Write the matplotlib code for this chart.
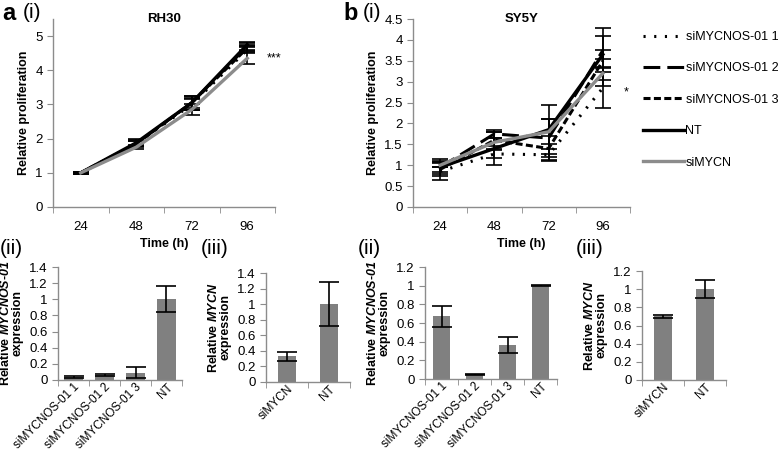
import numpy as np
import matplotlib
matplotlib.use("Agg")
import matplotlib.pyplot as plt

plt.rcParams['font.family'] = ['Liberation Sans', 'DejaVu Sans']
plt.rcParams['mathtext.fontset'] = 'custom'
plt.rcParams['mathtext.bfit'] = 'Liberation Sans:bold:italic'
plt.rcParams['mathtext.rm'] = 'Liberation Sans:bold'

# ---- data ----
times = ['24', '48', '72', '96']
series = ['siMYCNOS-01 1', 'siMYCNOS-01 2', 'siMYCNOS-01 3', 'NT', 'siMYCN']

rh30_mean = {
    'siMYCNOS-01 1': [1.0, 1.85, 3.0, 4.6],
    'siMYCNOS-01 2': [1.0, 1.85, 3.05, 4.7],
    'siMYCNOS-01 3': [1.0, 1.85, 3.05, 4.65],
    'NT':            [1.0, 1.88, 3.05, 4.75],
    'siMYCN':        [1.0, 1.75, 2.85, 4.35],
}
rh30_err = {
    'siMYCNOS-01 1': [0.02, 0.08, 0.15, 0.1],
    'siMYCNOS-01 2': [0.02, 0.1, 0.2, 0.1],
    'siMYCNOS-01 3': [0.02, 0.08, 0.15, 0.1],
    'NT':            [0.02, 0.1, 0.2, 0.08],
    'siMYCN':        [0.02, 0.05, 0.15, 0.17],
}
sy5y_mean = {
    'siMYCNOS-01 1': [0.85, 1.27, 1.25, 2.85],
    'siMYCNOS-01 2': [0.95, 1.75, 1.65, 3.75],
    'siMYCNOS-01 3': [0.9, 1.6, 1.4, 3.5],
    'NT':            [0.95, 1.4, 1.85, 3.65],
    'siMYCN':        [1.0, 1.55, 1.8, 3.2],
}
sy5y_err = {
    'siMYCNOS-01 1': [0.1, 0.1, 0.13, 0.47],
    'siMYCNOS-01 2': [0.15, 0.1, 0.45, 0.53],
    'siMYCNOS-01 3': [0.25, 0.2, 0.3, 0.6],
    'NT':            [0.12, 0.4, 0.58, 0.1],
    'siMYCN':        [0.05, 0.1, 0.3, 0.15],
}

kd_labels = ['siMYCNOS-01 1', 'siMYCNOS-01 2', 'siMYCNOS-01 3', 'NT']
mycn_labels = ['siMYCN', 'NT']
rh30_os_expr = [0.04, 0.06, 0.09, 1.0]
rh30_os_err = [0.01, 0.015, 0.065, 0.16]
rh30_mycn_expr = [0.33, 1.0]
rh30_mycn_err = [0.055, 0.28]
sy5y_os_expr = [0.67, 0.05, 0.36, 1.0]
sy5y_os_err = [0.11, 0.003, 0.085, 0.003]
sy5y_mycn_expr = [0.70, 1.0]
sy5y_mycn_err = [0.02, 0.1]

styles = {
    'siMYCNOS-01 1': dict(color='black', lw=2.2, dashes=(0.7, 2.8)),
    'siMYCNOS-01 2': dict(color='black', lw=2.2, dashes=(5.5, 2.3)),
    'siMYCNOS-01 3': dict(color='black', lw=2.2, dashes=(2.3, 1.1)),
    'NT':            dict(color='black', lw=2.4),
    'siMYCN':        dict(color='#8c8c8c', lw=2.4),
}

spine_col = '#8c8c8c'
bar_col = '#808080'
W, H = 778, 455


def px_axes(fig, left, right, bottom, top):
    return fig.add_axes([left / W, 1 - bottom / H, (right - left) / W, (bottom - top) / H])


def style_axes(ax, n):
    for s in ['top', 'right']:
        ax.spines[s].set_visible(False)
    for s in ['left', 'bottom']:
        ax.spines[s].set_color(spine_col)
        ax.spines[s].set_linewidth(1.0)
    ax.set_xlim(-0.5, n - 0.5)
    ax.set_xticks(np.arange(-0.5, n), minor=True)
    ax.tick_params(axis='x', which='major', length=0, labelsize=9.5, pad=9)
    ax.tick_params(axis='x', which='minor', length=4, color=spine_col)
    ax.tick_params(axis='y', length=4, color=spine_col, labelsize=9.5)


def fmt(v):
    return ('%g' % round(v, 2))


def line_panel(ax, means, errs, ymax, step, title):
    x = np.arange(len(times))
    style_axes(ax, len(times))
    handles = []
    for name in series:
        st = styles[name]
        ax.errorbar(x, means[name], yerr=errs[name], fmt='none', ecolor='black',
                    elinewidth=1.2, capsize=6, capthick=1.2, zorder=2)
        h, = ax.plot(x, means[name], label=name, zorder=3, **st)
        handles.append(h)
    ax.set_ylim(0, ymax)
    ticks = np.arange(0, ymax + 1e-9, step)
    ax.set_yticks(ticks, [fmt(t) for t in ticks])
    ax.set_xticks(x, times)
    ax.tick_params(axis='x', which='major', pad=10)
    ax.set_ylabel('Relative proliferation', fontsize=9, fontweight='bold')
    ax.set_xlabel('Time (h)', fontsize=9, fontweight='bold', labelpad=4)
    ax.text(0.5, 1.0, title, transform=ax.transAxes, fontsize=9.5,
            fontweight='bold', ha='center', va='center')
    return handles


def bar_panel(ax, labels, vals, errs, ymax, width, ylabel):
    x = np.arange(len(labels))
    style_axes(ax, len(labels))
    ax.bar(x, vals, width=width, color=bar_col, zorder=2)
    ax.errorbar(x, vals, yerr=errs, fmt='none', ecolor='black',
                elinewidth=1.2, capsize=7, capthick=1.2, zorder=3)
    ax.set_ylim(0, ymax)
    ticks = np.arange(0, ymax + 1e-9, 0.2)
    ax.set_yticks(ticks, [fmt(t) for t in ticks])
    ax.set_xticks(x, labels, rotation=45, ha='right', va='top', rotation_mode='anchor')
    ax.tick_params(axis='x', which='major', pad=1, labelsize=8.5)
    ax.tick_params(axis='y', labelsize=9.5)
    ax.set_ylabel(ylabel, fontsize=9, fontweight='bold', linespacing=1.0)


fig = plt.figure(figsize=(W / 100, H / 100), dpi=100)

ax_a1 = px_axes(fig, 53, 275, 207, 19)
line_panel(ax_a1, rh30_mean, rh30_err, 5.5, 1, 'RH30')
ax_a1.set_yticks(np.arange(0, 6), [str(t) for t in range(6)])
ax_a1.text(3.35, 4.35, '***', fontsize=9, va='center')

ax_b1 = px_axes(fig, 413, 630, 207, 19)
handles = line_panel(ax_b1, sy5y_mean, sy5y_err, 4.5, 0.5, 'SY5Y')
ax_b1.text(3.38, 2.75, '*', fontsize=9, va='center')

fig.legend(handles=handles, loc='upper left', bbox_to_anchor=(643 / W, 1 - 31 / H),
           frameon=False, fontsize=9, handlelength=3.3, handletextpad=0.1,
           labelspacing=1.55, borderpad=0, borderaxespad=0)

lab_os = 'Relative $\\mathbfit{MYCNOS}$-$\\mathbfit{01}$\nexpression'
lab_mycn = 'Relative $\\mathbfit{MYCN}$\nexpression'

ax_a2 = px_axes(fig, 58, 182, 380, 267)
bar_panel(ax_a2, kd_labels, rh30_os_expr, rh30_os_err, 1.4, 0.6, lab_os)
ax_a3 = px_axes(fig, 266, 350, 382, 273)
bar_panel(ax_a3, mycn_labels, rh30_mycn_expr, rh30_mycn_err, 1.4, 0.42, lab_mycn)
ax_b2 = px_axes(fig, 425, 557, 379, 267)
bar_panel(ax_b2, kd_labels, sy5y_os_expr, sy5y_os_err, 1.2, 0.5, lab_os)
ax_b3 = px_axes(fig, 642, 726, 380, 271)
bar_panel(ax_b3, mycn_labels, sy5y_mycn_expr, sy5y_mycn_err, 1.2, 0.42, lab_mycn)

# panel letters
def ptext(x, y, s, size, weight='normal'):
    fig.text(x / W, 1 - y / H, s, fontsize=size, fontweight=weight, va='center', ha='left')

ptext(2, 13, 'a', 17, 'bold')
ptext(23, 13, '(i)', 15)
ptext(343, 13, 'b', 17, 'bold')
ptext(363, 13, '(i)', 15)
ptext(0, 249, '(ii)', 15)
ptext(201, 249, '(iii)', 15)
ptext(358, 249, '(ii)', 15)
ptext(576, 249, '(iii)', 15)

fig.savefig('out.png', dpi=100)
